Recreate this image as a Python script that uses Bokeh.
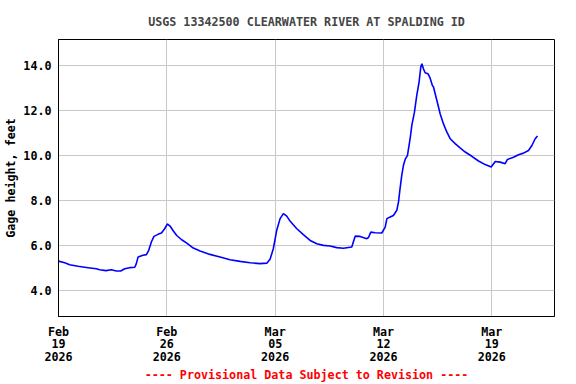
import pandas as pd
from bokeh.plotting import figure
from bokeh.models import FixedTicker, DatetimeTickFormatter, Range1d, NumeralTickFormatter
from bokeh.embed import file_html
from bokeh.resources import INLINE

title_text = "USGS 13342500 CLEARWATER RIVER AT SPALDING ID"
y_label = "Gage height, feet"
note_text = "---- Provisional Data Subject to Revision ----"

start_date = "2026-02-19"
end_offset_days = 32.05

# days since start, gage height (feet)
days = [0.00, 0.40, 0.72, 1.26, 1.91, 2.44, 2.66, 3.07, 3.41, 3.74, 4.02, 4.28,
        4.60, 4.93, 5.03, 5.14, 5.46, 5.68, 5.83, 6.00, 6.17, 6.43, 6.65, 6.86,
        7.03, 7.21, 7.42, 7.64, 7.96, 8.29, 8.71, 9.15, 9.79, 10.44, 11.08, 11.73,
        12.38, 13.02, 13.46, 13.67, 13.88, 14.10, 14.32, 14.53, 14.75, 14.96, 15.40,
        15.82, 16.26, 16.69, 17.12, 17.55, 17.98, 18.41, 18.95, 19.17, 19.49, 19.92,
        20.03, 20.18, 20.46, 20.89, 21.11, 21.22, 21.43, 21.64, 21.86, 21.97, 22.07,
        22.18, 22.29, 22.40, 22.55, 22.72, 22.83, 23.00, 23.15, 23.30, 23.41, 23.48,
        23.58, 23.69, 23.87, 24.01, 24.16, 24.23, 24.45, 24.66, 24.87, 25.09, 25.31,
        25.63, 25.95, 26.28, 26.71, 27.14, 27.57, 27.96, 28.22, 28.54, 28.86, 29.01,
        29.40, 29.72, 30.05, 30.37, 30.59, 30.80, 30.95]
gage = [5.30, 5.23, 5.14, 5.07, 5.01, 4.96, 4.92, 4.88, 4.92, 4.86, 4.86, 4.96,
        5.01, 5.03, 5.19, 5.48, 5.56, 5.59, 5.78, 6.15, 6.40, 6.49, 6.55, 6.74,
        6.95, 6.86, 6.64, 6.44, 6.25, 6.10, 5.88, 5.75, 5.60, 5.48, 5.36, 5.29,
        5.23, 5.19, 5.21, 5.38, 5.85, 6.67, 7.19, 7.41, 7.30, 7.08, 6.74,
        6.48, 6.22, 6.07, 6.00, 5.97, 5.90, 5.87, 5.93, 6.41, 6.40, 6.30,
        6.35, 6.59, 6.56, 6.55, 6.81, 7.19, 7.26, 7.33, 7.56, 7.93, 8.52,
        9.11, 9.56, 9.82, 10.00, 10.74, 11.33, 11.92, 12.67, 13.26, 13.93, 14.07,
        13.85, 13.67, 13.63, 13.44, 13.11, 13.04, 12.44, 11.85, 11.41, 11.04, 10.74,
        10.52, 10.33, 10.15, 9.96, 9.75, 9.59, 9.48, 9.73, 9.70, 9.63, 9.82,
        9.92, 10.03, 10.10, 10.22, 10.44, 10.74, 10.86]

x_tick_dates = ["2026-02-19", "2026-02-26", "2026-03-05", "2026-03-12", "2026-03-19"]
y_ticks = [4, 6, 8, 10, 12, 14]
y_min, y_max = 2.84, 15.15

start = pd.Timestamp(start_date)
xs = [start + pd.Timedelta(days=d) for d in days]

FONT = "DejaVu Sans Mono"
FS = "11.7px"

p = figure(width=576, height=384, x_axis_type="datetime",
           output_backend="svg", toolbar_location=None,
           x_range=Range1d(start, start + pd.Timedelta(days=end_offset_days)),
           y_range=Range1d(y_min, y_max),
           min_border_left=58, min_border_right=22, min_border_top=39, min_border_bottom=68)

p.title.text = title_text
p.title.text_font = FONT
p.title.text_font_size = FS
p.title.text_font_style = "bold"
p.title.align = "center"
p.title.standoff = 21

p.line(xs, gage, line_color="#0000FF", line_width=1.6)

p.outline_line_color = "black"
p.outline_line_width = 1
p.background_fill_color = "white"
p.border_fill_color = "white"

for g in (p.xgrid, p.ygrid):
    g.grid_line_color = "#c8c8c8"
    g.grid_line_width = 1

p.xaxis.ticker = FixedTicker(ticks=[pd.Timestamp(d).value // 10**6 for d in x_tick_dates])
fmt = "%b\n%d\n%Y"
p.xaxis.formatter = DatetimeTickFormatter(days=fmt, months=fmt, hours=fmt, years=fmt,
                                          minutes=fmt, hourmin=fmt)
p.yaxis.ticker = FixedTicker(ticks=y_ticks)
p.yaxis.formatter = NumeralTickFormatter(format="0.0")

for ax in (p.xaxis, p.yaxis):
    ax.major_tick_out = 0
    ax.major_tick_in = 0
    ax.minor_tick_out = 0
    ax.minor_tick_in = 0
    ax.axis_line_color = "black"
    ax.major_label_text_font = FONT
    ax.major_label_text_font_size = FS
    ax.major_label_text_font_style = "bold"
    ax.major_label_text_color = "black"
    ax.axis_label_text_font = FONT
    ax.axis_label_text_font_size = FS
    ax.axis_label_text_font_style = "bold"

p.xaxis.major_label_standoff = 8
p.xaxis.major_label_text_line_height = 0.9
p.xaxis.axis_label = note_text
p.xaxis.axis_label_text_color = "red"
p.xaxis.axis_label_standoff = 1

p.yaxis.axis_label = y_label
p.yaxis.axis_label_text_color = "black"
p.yaxis.axis_label_standoff = 2
p.yaxis.major_label_standoff = 7

open("out.html", "w").write(file_html(p, INLINE))
